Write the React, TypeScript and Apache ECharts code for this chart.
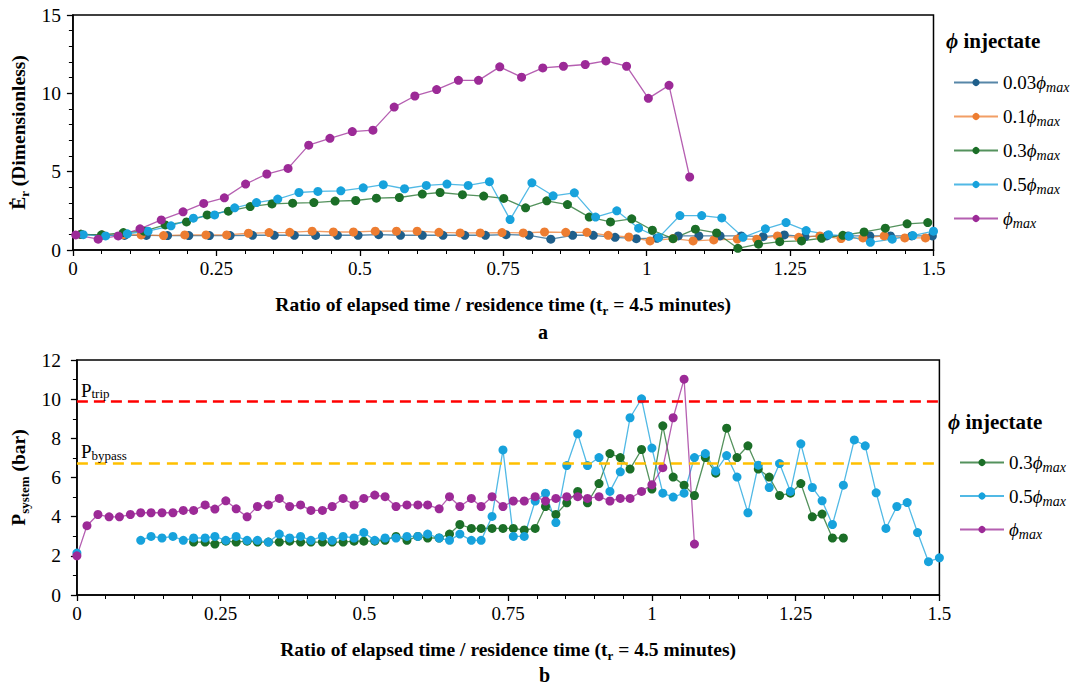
import React, { useEffect, useRef } from "react";
import * as echarts from "echarts";

const FONT = "Liberation Serif, serif";

// ---------- Chart a : E_r (dimensionless) ----------
const a003X = [0.014,0.051,0.09,0.128,0.165,0.202,0.238,0.274,0.313,0.351,0.386,0.423,0.461,0.497,0.533,0.571,0.609,0.645,0.683,0.719,0.755,0.795,0.833,0.871,0.907,0.945,0.982,1.018,1.055,1.091,1.128,1.165,1.203,1.24,1.276,1.314,1.351,1.389,1.425,1.462,1.498];
const a003Y = [1.0,0.95,0.93,0.93,0.92,0.92,0.92,0.92,0.94,0.94,0.94,0.93,0.94,0.94,0.98,0.94,0.94,0.94,0.94,0.94,0.98,0.94,0.69,0.94,0.94,0.81,0.72,0.75,0.9,0.9,0.9,0.9,0.85,0.96,0.85,0.9,0.9,0.9,0.9,0.9,0.9];

const a01X = [0.014,0.051,0.088,0.119,0.158,0.195,0.232,0.268,0.306,0.342,0.378,0.417,0.454,0.489,0.527,0.564,0.6,0.638,0.675,0.71,0.748,0.785,0.822,0.859,0.896,0.933,0.969,1.006,1.046,1.081,1.117,1.158,1.192,1.228,1.265,1.302,1.339,1.377,1.414,1.45,1.486];
const a01Y = [1.0,0.96,0.98,0.96,0.92,0.96,0.96,0.96,1.07,1.11,1.13,1.2,1.15,1.15,1.2,1.2,1.2,1.13,1.09,1.09,1.11,1.09,1.15,1.13,1.13,0.94,0.83,0.58,0.73,0.58,0.64,0.7,0.69,0.9,0.81,0.9,0.73,0.77,0.9,0.77,0.77];

const a03X = [0.014,0.05,0.088,0.124,0.161,0.198,0.234,0.271,0.309,0.347,0.383,0.42,0.457,0.493,0.529,0.569,0.609,0.64,0.679,0.716,0.751,0.789,0.826,0.862,0.9,0.937,0.974,1.01,1.046,1.085,1.122,1.159,1.195,1.232,1.27,1.305,1.342,1.379,1.416,1.454,1.49];
const a03Y = [1.0,0.97,1.11,1.2,1.6,1.79,2.24,2.48,2.77,2.94,2.99,3.03,3.12,3.16,3.31,3.35,3.57,3.67,3.53,3.44,3.29,2.69,3.14,2.9,2.1,1.79,1.99,1.26,0.72,1.33,1.09,0.11,0.37,0.53,0.58,0.75,0.94,1.15,1.39,1.67,1.75];

const a05X = [0.018,0.057,0.095,0.131,0.171,0.21,0.247,0.282,0.32,0.357,0.394,0.427,0.467,0.506,0.541,0.578,0.616,0.652,0.689,0.726,0.762,0.8,0.837,0.874,0.911,0.948,0.986,1.021,1.058,1.096,1.131,1.168,1.207,1.243,1.278,1.317,1.353,1.39,1.428,1.464,1.5];
const a05Y = [0.98,0.9,1.03,1.2,1.54,2.03,2.24,2.69,3.03,3.25,3.67,3.74,3.78,3.97,4.17,3.91,4.12,4.21,4.12,4.36,1.94,4.29,3.46,3.65,2.1,2.5,1.39,0.79,2.2,2.2,2.05,0.81,1.35,1.75,1.24,0.98,0.88,0.49,0.69,0.92,1.2];

const a1X = [0.005,0.044,0.079,0.117,0.154,0.192,0.228,0.264,0.301,0.338,0.375,0.411,0.448,0.487,0.523,0.56,0.596,0.634,0.672,0.707,0.744,0.782,0.819,0.855,0.893,0.929,0.965,1.003,1.039,1.075];
const a1Y = [0.96,0.69,0.9,1.35,1.92,2.44,2.97,3.33,4.21,4.85,5.21,6.69,7.13,7.56,7.65,9.12,9.83,10.24,10.83,10.83,11.69,11.03,11.62,11.73,11.84,12.07,11.73,9.68,10.51,4.66];

// ---------- Chart b : P_system (bar) ----------
const b03X = [0.203,0.223,0.24,0.259,0.277,0.296,0.314,0.333,0.352,0.37,0.389,0.407,0.427,0.444,0.463,0.482,0.499,0.518,0.536,
  0.555,0.574,0.593,0.61,0.63,0.648,0.666,0.686,0.703,0.722,0.741,0.759,0.778,0.797,0.815,0.833,0.852,0.871,0.888,0.908,0.927,0.945,0.962,0.982,1.0,1.019,1.037,1.056,
  1.074,1.093,1.111,1.13,1.148,1.167,1.185,1.204,1.222,1.241,1.259,1.279,1.296,1.314,1.333];
const b03Y = [2.7,2.7,2.6,2.75,2.7,2.75,2.7,2.7,2.7,2.75,2.7,2.7,2.7,2.7,2.7,2.75,2.75,2.75,2.79,
  2.99,2.79,2.99,2.91,2.91,3.11,3.6,3.4,3.4,3.4,3.4,3.4,3.32,3.4,4.52,4.11,4.71,5.29,4.71,5.69,7.22,7.02,6.43,7.43,5.41,8.64,6.02,5.61,
  5.08,7.02,6.22,8.52,7.02,7.62,6.43,6.02,5.08,5.2,5.69,3.99,4.13,2.91,2.91];

const b05X = [0,0.06,0.111,0.129,0.148,0.167,0.185,0.203,0.223,0.24,0.259,0.277,0.296,0.314,0.333,0.352,0.37,0.389,0.407,0.427,0.444,0.463,0.482,0.499,0.518,0.536,
  0.555,0.574,0.593,0.61,0.63,0.648,0.666,0.686,0.703,0.722,0.741,0.759,0.778,0.797,0.815,0.833,0.852,0.871,0.888,0.908,0.927,0.945,0.962,0.982,1.0,1.019,1.037,1.056,
  1.074,1.093,1.111,1.13,1.148,1.167,1.185,1.204,1.222,1.241,1.259,1.279,1.296,1.314,1.333,1.352,1.371,1.39,1.407,1.426,1.444,1.462,1.481,1.5];
const b05Y: (number | string)[] = [2.14,"-",2.79,2.99,2.91,2.99,2.79,2.91,2.91,2.99,2.79,2.99,2.79,2.79,2.7,3.11,2.91,2.99,2.79,2.99,2.79,2.99,2.91,3.19,2.79,2.91,
  2.91,2.99,2.99,3.11,2.91,2.79,3.11,2.79,2.79,4.01,7.41,2.99,2.99,4.8,5.2,3.7,6.61,8.23,6.61,7.02,5.29,6.29,9.05,10.02,7.5,5.2,5.0,5.2,
  7.02,7.22,6.33,7.12,6.02,4.2,6.63,5.49,6.71,5.29,7.72,5.49,4.81,3.6,5.61,7.92,7.62,5.22,3.4,4.52,4.72,3.19,1.7,1.9];

const b1X = [0,0.0175,0.0366,0.056,0.074,0.093,0.111,0.129,0.148,0.167,0.185,0.203,0.223,0.24,0.259,0.277,0.296,0.314,0.333,0.352,0.37,0.389,0.407,0.427,0.444,0.463,0.482,0.499,0.518,0.536,
  0.555,0.574,0.593,0.61,0.63,0.648,0.666,0.686,0.703,0.722,0.741,0.759,0.778,0.797,0.815,0.833,0.852,0.871,0.888,0.908,0.927,0.945,0.962,0.982,1.0,1.019,1.037,1.056,1.074];
const b1Y = [2.0,3.54,4.11,3.99,3.99,4.11,4.2,4.2,4.2,4.2,4.32,4.32,4.6,4.39,4.81,4.4,3.99,4.52,4.6,4.93,4.52,4.6,4.32,4.32,4.52,4.93,4.6,4.93,5.1,5.02,
  4.52,4.6,4.6,4.6,4.4,5.02,4.52,4.93,4.52,5.02,4.52,4.8,4.8,5.02,4.8,4.93,5.02,5.02,4.93,5.02,4.8,4.93,4.93,5.29,5.63,6.5,9.05,11.02,2.6];

const P_TRIP = 9.9;
const P_BYPASS = 6.75;

const NAMES_A = ["0.03ϕmax", "0.1ϕmax", "0.3ϕmax", "0.5ϕmax", "ϕmax"];
const NAMES_B = ["0.3ϕmax", "0.5ϕmax", "ϕmax"];

const C003 = "#1f5f8b";
const C01 = "#ed7d31";
const C03 = "#1b6e27";
const C05 = "#17a2dc";
const C1 = "#9c2a97";

function zip(xs: number[], ys: (number | string)[]) {
  return xs.map((x, i) => [x, ys[i]]);
}

function lineSeries(name: string, data: any[], color: string, idx: number) {
  return {
    name,
    type: "line",
    xAxisIndex: idx,
    yAxisIndex: idx,
    data,
    symbol: "circle",
    symbolSize: 9,
    connectNulls: false,
    itemStyle: { color },
    lineStyle: { color, width: 1.3, opacity: 0.75 },
    emphasis: { disabled: true },
  };
}

const richSub = {
  b: { fontFamily: FONT, fontSize: 19.5, fontWeight: "bold", color: "#000", lineHeight: 25 },
  s: { fontFamily: FONT, fontSize: 13, fontWeight: "bold", color: "#000", verticalAlign: "bottom", lineHeight: 13 },
};

const legendRich = {
  n: { fontFamily: FONT, fontSize: 19, color: "#000", lineHeight: 24 },
  p: { fontFamily: FONT, fontSize: 19, fontStyle: "italic", color: "#000", lineHeight: 24 },
  s: { fontFamily: FONT, fontSize: 14, fontStyle: "italic", color: "#000", verticalAlign: "bottom", lineHeight: 14 },
};

function legendFmt(name: string) {
  const coef = name.split("ϕ")[0];
  return (coef ? `{n|${coef}}` : "") + "{p|ϕ}{s|max}";
}

function xAxis(idx: number) {
  return {
    type: "value",
    gridIndex: idx,
    min: 0,
    max: 1.5,
    interval: 0.25,
    name: "{b|Ratio of elapsed time / residence time (t}{s|r}{b| = 4.5 minutes)}",
    nameLocation: "middle",
    nameGap: 42,
    nameTextStyle: { rich: richSub },
    axisLine: { show: true, onZero: false, lineStyle: { color: "#000", width: 1.5 } },
    axisTick: { show: true, length: 6, lineStyle: { color: "#000", width: 1.3 } },
    minorTick: { show: true, splitNumber: 5, length: 4, lineStyle: { color: "#000", width: 1 } },
    axisLabel: { fontFamily: FONT, fontSize: 19, color: "#000", margin: 9 },
    splitLine: { show: false },
  };
}

const titleRich = {
  p: { fontFamily: FONT, fontSize: 21, fontWeight: "bold", fontStyle: "italic", color: "#000" },
  t: { fontFamily: FONT, fontSize: 21, fontWeight: "bold", color: "#000" },
};

const option: any = {
  animation: false,
  backgroundColor: "#fff",
  grid: [
    { left: 70.5, right: 152.5, top: 15, height: 235, show: true, borderColor: "#000", borderWidth: 1.5, backgroundColor: "transparent" },
    { left: 75, right: 146.6, top: 360, height: 235, show: true, borderColor: "#000", borderWidth: 1.5, backgroundColor: "transparent" },
  ],
  xAxis: [xAxis(0), xAxis(1)],
  yAxis: [
    {
      type: "value",
      gridIndex: 0,
      min: 0,
      max: 15,
      interval: 5,
      name: "{b|Ė}{s|r}{b| (Dimensionless)}",
      nameLocation: "middle",
      nameGap: 36,
      nameTextStyle: { rich: richSub },
      axisLine: { show: true, onZero: false, lineStyle: { color: "#000", width: 1.5 } },
      axisTick: { show: true, length: 6, lineStyle: { color: "#000", width: 1.3 } },
      minorTick: { show: true, splitNumber: 5, length: 4, lineStyle: { color: "#000", width: 1 } },
      axisLabel: { fontFamily: FONT, fontSize: 19.5, color: "#000", margin: 12 },
      splitLine: { show: false },
    },
    {
      type: "value",
      gridIndex: 1,
      min: 0,
      max: 12,
      interval: 2,
      name: "{b|P}{s|system}{b| (bar)}",
      nameLocation: "middle",
      nameGap: 38,
      nameTextStyle: { rich: richSub },
      axisLine: { show: true, onZero: false, lineStyle: { color: "#000", width: 1.5 } },
      axisTick: { show: true, length: 6, lineStyle: { color: "#000", width: 1.3 } },
      minorTick: { show: true, splitNumber: 2, length: 4, lineStyle: { color: "#000", width: 1 } },
      axisLabel: { fontFamily: FONT, fontSize: 19.5, color: "#000", margin: 16 },
      splitLine: { show: false },
    },
  ],
  title: [
    { text: "{p|ϕ}{t| injectate}", left: 946, top: 30, padding: 0, textStyle: { rich: titleRich } },
    { text: "{p|ϕ}{t| injectate}", left: 948, top: 411, padding: 0, textStyle: { rich: titleRich } },
    { text: "a", left: 538, top: 322, padding: 0, textStyle: { fontFamily: FONT, fontSize: 20, fontWeight: "bold", color: "#000" } },
    { text: "b", left: 539, top: 665, padding: 0, textStyle: { fontFamily: FONT, fontSize: 20, fontWeight: "bold", color: "#000" } },
  ],
  legend: [
    {
      data: NAMES_A,
      orient: "vertical",
      left: 948,
      top: 68,
      itemWidth: 44,
      itemHeight: 9,
      itemGap: 12.5,
      selectedMode: false,
      formatter: legendFmt,
      textStyle: { rich: legendRich },
    },
    {
      data: NAMES_B,
      orient: "vertical",
      left: 954,
      top: 448,
      itemWidth: 44,
      itemHeight: 9,
      itemGap: 12,
      selectedMode: false,
      formatter: legendFmt,
      textStyle: { rich: legendRich },
    },
  ],
  series: [
    lineSeries("0.03ϕmax", zip(a003X, a003Y), C003, 0),
    lineSeries("0.1ϕmax", zip(a01X, a01Y), C01, 0),
    lineSeries("0.3ϕmax", zip(a03X, a03Y), C03, 0),
    lineSeries("0.5ϕmax", zip(a05X, a05Y), C05, 0),
    lineSeries("ϕmax", zip(a1X, a1Y), C1, 0),
    {
      name: "thresholds",
      type: "line",
      xAxisIndex: 1,
      yAxisIndex: 1,
      data: [[0, P_TRIP]],
      showSymbol: false,
      symbol: "none",
      lineStyle: { opacity: 0 },
      silent: true,
      markLine: {
        silent: true,
        symbol: ["none", "none"],
        data: [
          {
            yAxis: P_TRIP,
            lineStyle: { color: "#ff0000", type: [11, 6], width: 2.5 },
            label: {
              show: true, position: "insideStartTop", distance: [4, 1],
              formatter: "{p|P}{s|trip}",
              rich: {
                p: { fontFamily: FONT, fontSize: 19, color: "#000", lineHeight: 20 },
                s: { fontFamily: FONT, fontSize: 13, color: "#000", verticalAlign: "bottom", lineHeight: 13 },
              },
            },
          },
          {
            yAxis: P_BYPASS,
            lineStyle: { color: "#ffc000", type: [11, 7], width: 2.5 },
            label: {
              show: true, position: "insideStartTop", distance: [4, 1],
              formatter: "{p|P}{s|bypass}",
              rich: {
                p: { fontFamily: FONT, fontSize: 19, color: "#000", lineHeight: 20 },
                s: { fontFamily: FONT, fontSize: 13, color: "#000", verticalAlign: "bottom", lineHeight: 13 },
              },
            },
          },
        ],
      },
    },
    lineSeries("0.3ϕmax", zip(b03X, b03Y), C03, 1),
    lineSeries("0.5ϕmax", zip(b05X, b05Y), C05, 1),
    lineSeries("ϕmax", zip(b1X, b1Y), C1, 1),
  ],
};

export default function App() {
  const ref = useRef<HTMLDivElement>(null);
  useEffect(() => {
    const chart = echarts.init(ref.current!, null, { renderer: "svg" });
    chart.setOption(option);
    return () => chart.dispose();
  }, []);
  return (
    <div
      ref={ref}
      style={{ position: "fixed", left: 0, top: 0, width: 1086, height: 686, background: "#fff" }}
    />
  );
}
